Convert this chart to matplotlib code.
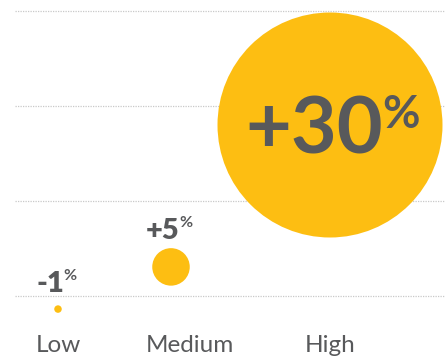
import matplotlib
matplotlib.use("Agg")
import matplotlib.pyplot as plt

plt.rcParams['font.family'] = ['Lato', 'DejaVu Sans']

categories = ["Low", "Medium", "High"]
changes = [-1, 5, 30]                 # % change, also drives bubble radius
labels = ["-1", "+5", "+30"]
bubble_x = [58, 171, 330]
bubble_y = [-2.2, 4.9, 28.8]
cat_label_x = [58, 190, 330]
grid_y = [0, 16, 32, 48]

YELLOW = "#FDBE12"
GREY = "#58595B"
DPI = 100

fig = plt.figure(figsize=(4.45, 3.61), dpi=DPI)
ax = fig.add_axes([0, 0, 1, 1])
ppu = 285 / 48.0
ax.set_xlim(0, 445)
ax.set_ylim(-(361 - 296) / ppu, 296 / ppu)
ax.axis("off")

ax.hlines(grid_y, 15, 445, colors="#c9c9c9", linestyles=(0, (1, 1)), linewidth=0.9, zorder=0)

# bubble diameter in px ~ 7.5 * |change|
sizes = [(7.5 * abs(v) * 72 / DPI) ** 2 for v in changes]
ax.scatter(bubble_x, bubble_y, s=sizes, color=YELLOW, edgecolors="none", zorder=2)

# value labels: (text size, % size, weight, offset px)
styles = [(21, 11.5, "heavy", (-8, 17)), (21, 11.5, "heavy", (-8, 28)),
          (57, 33, "bold", (-16, -29))]
for x, y, lab, (fs, ps, w, off) in zip(bubble_x, bubble_y, labels, styles):
    t = ax.annotate(lab, (x, y), xytext=off, textcoords="offset pixels",
                    ha="center", va="baseline", fontsize=fs, fontweight=w,
                    color=GREY, zorder=3)
    ax.annotate("%", xy=(1, 1), xycoords=t, xytext=(-1, 2), textcoords="offset pixels",
                ha="left", va="top", fontsize=ps, fontweight="bold", color=GREY, zorder=3)

for x, c in zip(cat_label_x, categories):
    ax.text(x, (296 - 352) / ppu, c, ha="center", va="baseline",
            fontsize=17.5, fontweight="normal", color=GREY)

fig.savefig("out.png", dpi=DPI)
